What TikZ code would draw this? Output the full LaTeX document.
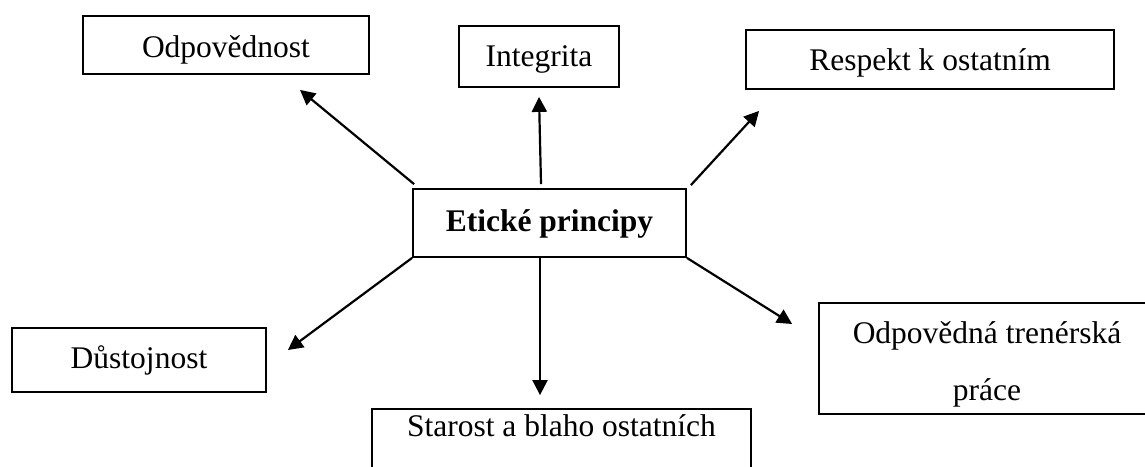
\documentclass[tikz,border=0pt]{standalone}
\usepackage{fontspec}
\setmainfont{Liberation Serif}
\usetikzlibrary{arrows.meta,calc}
\begin{document}
\begin{tikzpicture}[x=1pt,y=-1pt,
  box/.style={draw=black,line width=1.8pt,inner sep=0pt,font=\fontsize{31.5}{38}\selectfont},
  conn/.style={line width=2.2pt,-{Triangle[length=15pt,width=15pt]}}]
\useasboundingbox (0,0) rectangle (1145,466);
\clip (0,0) rectangle (1145,466);
% central
\node[box,minimum width=273pt,minimum height=68pt,text height=24pt,text depth=8pt,font=\fontsize{31.5}{38}\selectfont\bfseries] (e) at (549.5,223) {Etické principy};
% outer boxes
\node[box,minimum width=286pt,minimum height=58pt,text height=31pt,text depth=7pt] (odp) at (226,45) {Odpovědnost};
\node[box,minimum width=160pt,minimum height=61pt,text height=26pt,text depth=7pt] (int) at (539,56.5) {Integrita};
\node[box,minimum width=368pt,minimum height=59pt,text height=28pt,text depth=7pt] (res) at (930,59.5) {Respekt k ostatním};
\node[box,minimum width=254pt,minimum height=64pt,text height=23pt,text depth=7pt] (dus) at (139,360) {Důstojnost};
\node[box,minimum width=379pt,minimum height=68pt,text height=8pt,text depth=22pt] (sta) at (561.5,443) {Starost a blaho ostatních};
\node[box,minimum width=336pt,minimum height=111pt,text height=90pt,text depth=7pt,align=center,font=\fontsize{31.5}{57}\selectfont] (odt) at (987,358.5) {Odpovědná trenérská\\práce};
% connectors
\draw[conn] ($(e.north west)+(2,-4)$) -- ($(odp.south)+(74,15)$);
\draw[conn] ($(e.north)+(-8.5,-4)$) -- ($(int.south)+(0,9)$);
\draw[conn] ($(e.north east)+(4,-3)$) -- ($(res.south west)+(14,21)$);
\draw[conn] (e.south west) -- ($(dus.east)+(21,-10)$);
\draw[conn] ($(e.south)+(-9.5,0)$) -- ($(sta.north)+(-21.5,-13)$);
\draw[conn] (e.south east) -- ($(odt.west)+(-26,-34.5)$);
\end{tikzpicture}
\end{document}
